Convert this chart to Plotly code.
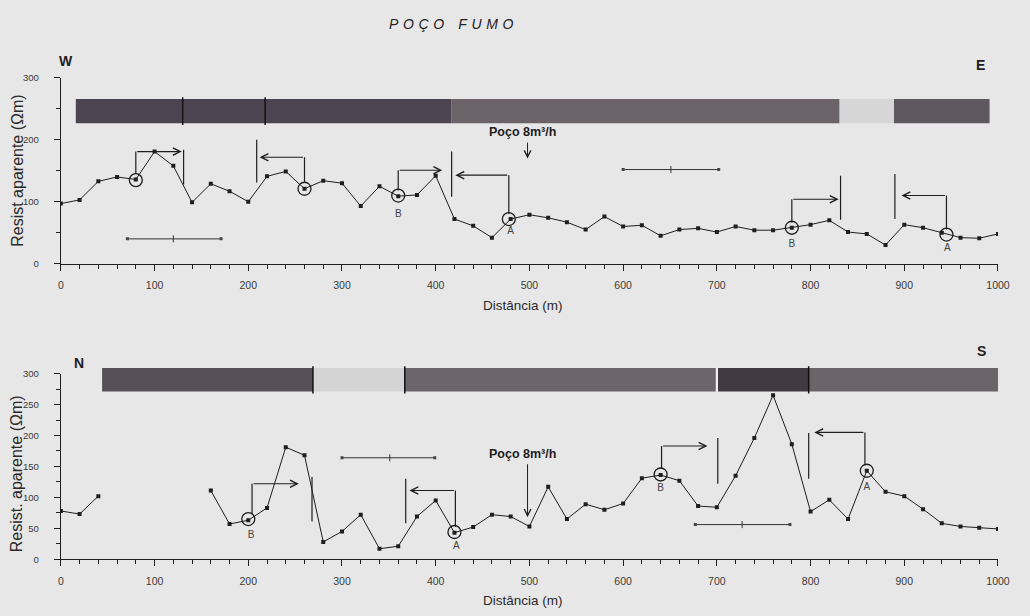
import plotly.graph_objects as go

# ---------------- data ----------------
dist = list(range(0, 1001, 20))

# W-E profile: apparent resistivity (ohm.m)
rho_we = [97, 103, 133, 140, 136, 181, 158, 99, 129, 117, 100, 141, 149, 121, 134, 130,
          93, 125, 109, 111, 142, 72, 61, 42, 72, 79, 74, 67, 55, 76, 60, 62, 45, 55,
          57, 51, 60, 54, 54, 58, 63, 70, 51, 48, 30, 63, 58, 50, 42, 41, 48]

# N-S profile (no readings between 60 and 140 m)
rho_ns = [78, 73, 102, None, None, None, None, None, 111, 57, 63, 83, 181, 168, 28, 45,
          72, 17, 21, 69, 95, 43, 52, 72, 69, 53, 117, 65, 89, 80, 90, 131, 136, 127,
          86, 84, 135, 196, 265, 186, 77, 96, 65, 143, 109, 102, 81, 58, 53, 51, 49]

# anomaly centres (circled) and their labels
circ_we_x = [80, 260, 360, 478, 780, 945]
circ_we_y = [135, 121, 110, 72, 58, 47]
lab_we_x = [360, 480, 780, 946]
lab_we_y = [80, 52, 31, 24]
lab_we_t = ["B", "A", "B", "A"]

circ_ns_x = [200, 420, 640, 860]
circ_ns_y = [65, 44, 137, 143]
lab_ns_x = [203, 422, 640, 860]
lab_ns_y = [38, 21, 115, 116]
lab_ns_t = ["B", "A", "B", "A"]

# interpreted structure brackets: start x, start y, top y, arrow end x
brk_we_x0 = [80, 260, 360, 478, 780, 945]
brk_we_y0 = [145, 131, 118, 80, 66, 55]
brk_we_yt = [181, 172, 151, 143, 104, 110]
brk_we_x1 = [129, 212, 407, 421, 830, 897]

brk_ns_x0 = [204, 421, 641, 858]
brk_ns_y0 = [73, 52, 146, 152]
brk_ns_yt = [122, 111, 183, 205]
brk_ns_x1 = [254, 372, 690, 804]

# interpreted contacts: x, bottom y, top y
cont_we_x = [131, 209, 417, 832, 890]
cont_we_y0 = [128, 131, 108, 71, 72]
cont_we_y1 = [184, 200, 181, 142, 145]

cont_ns_x = [268, 368, 701, 798]
cont_ns_y0 = [61, 58, 122, 130]
cont_ns_y1 = [133, 130, 196, 204]

# dipole spread bars: x start, x end, y, centre
bar_we_x0 = [71, 600]
bar_we_x1 = [171, 702]
bar_we_y = [40, 152]
bar_we_xm = [120, 651]

bar_ns_x0 = [300, 677]
bar_ns_x1 = [399, 778]
bar_ns_y = [164, 56]
bar_ns_xm = [351, 727]

# geological units along each profile
geo_we_x0 = [16, 417, 831, 889]
geo_we_x1 = [417, 831, 889, 991]
geo_we_col = ["#4c4450", "#6b6368", "#d6d6d6", "#5f5860"]
geo_we_div = [130, 218]
geo_we_ylim = [227, 266]

geo_ns_x0 = [44, 269, 367, 701, 798]
geo_ns_x1 = [269, 367, 699, 798, 1002]
geo_ns_col = ["#585058", "#d4d4d4", "#6c6569", "#413a42", "#6a6368"]
geo_ns_div = [269, 367, 798]
geo_ns_gap = [700]
geo_ns_ylim = [271, 309]

well_x = 498

# ---------------- layout geometry ----------------
W, H = 1030, 616
XD = [58.7 / W, 1009.7 / W]
YD_TOP = [1 - 262.3 / H, 1 - 73.3 / H]
YD_BOT = [1 - 563.3 / H, 1 - 374.3 / H]

BG = "#e7e7e7"
INK = "#1e1e1e"
TXT = "#3a3a3a"

fig = go.Figure()
shapes = []
annots = []


def ypaper(v, dom):
    return dom[0] + v / 300.0 * (dom[1] - dom[0])


def add_profile(xa, ya, dom, rho, cx, cy, lx, ly, lt, bx0, by0, byt, bx1,
                kx, ky0, ky1, sx0, sx1, sy, sxm, gx0, gx1, gcol, gdiv, gylim, ggap):
    # geology band
    for a, b, c in zip(gx0, gx1, gcol):
        shapes.append(dict(type="rect", xref=xa, yref="paper", x0=a, x1=b,
                           y0=ypaper(gylim[0], dom), y1=ypaper(gylim[1], dom),
                           fillcolor=c, line=dict(width=0), layer="below"))
    for d in gdiv:
        shapes.append(dict(type="line", xref=xa, yref="paper", x0=d, x1=d,
                           y0=ypaper(gylim[0] - 3, dom), y1=ypaper(gylim[1] + 3, dom),
                           line=dict(color="#111", width=1.5)))
    for d in ggap:
        shapes.append(dict(type="line", xref=xa, yref="paper", x0=d, x1=d,
                           y0=ypaper(gylim[0] - 1, dom), y1=ypaper(gylim[1] + 1, dom),
                           line=dict(color="#f4f4f4", width=2)))

    # resistivity curve
    fig.add_trace(go.Scatter(x=dist, y=rho, xaxis=xa, yaxis=ya, mode="lines+markers",
                             connectgaps=False,
                             line=dict(color=INK, width=1),
                             marker=dict(symbol="square", size=4, color=INK),
                             showlegend=False, hoverinfo="skip"))
    # circled anomalies
    fig.add_trace(go.Scatter(x=cx, y=cy, xaxis=xa, yaxis=ya, mode="markers",
                             marker=dict(symbol="circle-open", size=13, color=INK,
                                         line=dict(color=INK, width=1.3)),
                             showlegend=False, hoverinfo="skip"))
    fig.add_trace(go.Scatter(x=lx, y=ly, xaxis=xa, yaxis=ya, mode="text", text=lt,
                             textfont=dict(family="Arial", size=10, color="#444"),
                             showlegend=False, hoverinfo="skip"))
    # bracket verticals and contacts
    vx, vy = [], []
    for a, b, c in zip(bx0, by0, byt):
        vx += [a, a, None]
        vy += [b, c, None]
    for a, b, c in zip(kx, ky0, ky1):
        vx += [a, a, None]
        vy += [b, c, None]
    fig.add_trace(go.Scatter(x=vx, y=vy, xaxis=xa, yaxis=ya, mode="lines",
                             line=dict(color=INK, width=1.2),
                             showlegend=False, hoverinfo="skip"))
    # bracket arrows
    for a, c, e in zip(bx0, byt, bx1):
        annots.append(dict(xref=xa, yref=ya, axref=xa, ayref=ya, x=e, y=c, ax=a, ay=c,
                           text="", showarrow=True, arrowhead=5, arrowsize=1.3,
                           arrowwidth=1.1, arrowcolor=INK))
    # dipole spread bars
    bxs, bys = [], []
    for a, b, c in zip(sx0, sx1, sy):
        bxs += [a, b, None]
        bys += [c, c, None]
    fig.add_trace(go.Scatter(x=bxs, y=bys, xaxis=xa, yaxis=ya, mode="lines+markers",
                             line=dict(color="#333", width=1),
                             marker=dict(symbol="square", size=3, color="#444"),
                             showlegend=False, hoverinfo="skip"))
    fig.add_trace(go.Scatter(x=sxm, y=sy, xaxis=xa, yaxis=ya, mode="markers",
                             marker=dict(symbol="line-ns", size=5, color="#333",
                                         line=dict(color="#333", width=1)),
                             showlegend=False, hoverinfo="skip"))


add_profile("x", "y", YD_TOP, rho_we, circ_we_x, circ_we_y, lab_we_x, lab_we_y, lab_we_t,
            brk_we_x0, brk_we_y0, brk_we_yt, brk_we_x1,
            cont_we_x, cont_we_y0, cont_we_y1,
            bar_we_x0, bar_we_x1, bar_we_y, bar_we_xm,
            geo_we_x0, geo_we_x1, geo_we_col, geo_we_div, geo_we_ylim, [])
add_profile("x2", "y2", YD_BOT, rho_ns, circ_ns_x, circ_ns_y, lab_ns_x, lab_ns_y, lab_ns_t,
            brk_ns_x0, brk_ns_y0, brk_ns_yt, brk_ns_x1,
            cont_ns_x, cont_ns_y0, cont_ns_y1,
            bar_ns_x0, bar_ns_x1, bar_ns_y, bar_ns_xm,
            geo_ns_x0, geo_ns_x1, geo_ns_col, geo_ns_div, geo_ns_ylim, geo_ns_gap)

# well location
for xa, ya, ty, y0, y1 in [("x", "y", 213, 198, 170), ("x2", "y2", 170, 156, 68)]:
    annots.append(dict(xref=xa, yref=ya, x=493, y=ty, text="<b>Poço 8m³/h</b>",
                       xanchor="center", yanchor="middle",
                       showarrow=False, font=dict(family="Arial", size=12.5, color=INK)))
    annots.append(dict(xref=xa, yref=ya, axref=xa, ayref=ya, x=well_x, y=y1,
                       ax=well_x, ay=y0, text="", showarrow=True, arrowhead=5,
                       arrowsize=1.3, arrowwidth=1, arrowcolor=INK))


def paper_text(text, x, y, size, angle=0, color=INK):
    annots.append(dict(xref="paper", yref="paper", x=x / W, y=1 - y / H, text=text,
                       xanchor="center", yanchor="middle", textangle=angle,
                       showarrow=False, font=dict(family="Arial", size=size, color=color)))


# orientation letters, title and axis titles
for t, x, y in [("W", 64, 56), ("E", 992, 60), ("N", 77, 363), ("S", 993, 351)]:
    paper_text("<b>%s</b>" % t, x, y, 14)
paper_text("<i>P\u2004O\u2004Ç\u2004O\u2003F\u2004U\u2004M\u2004O</i>", 455, 18, 14, color="#222")
paper_text("Resist aparente (Ωm)", 14, 168, 16, angle=-90, color="#2a2a2a")
paper_text("Resist. aparente (Ωm)", 14, 476, 16, angle=-90, color="#2a2a2a")
paper_text("Distância (m)", 528, 305, 13.5, color="#2a2a2a")
paper_text("Distância (m)", 528, 605, 13.5, color="#2a2a2a")

xaxis_common = dict(range=[0, 1000], domain=XD, showline=True, linecolor=INK, linewidth=1.3,
                    ticks="outside", ticklen=6, tickwidth=1.2, tickcolor=INK,
                    tick0=0, dtick=100, showgrid=False, zeroline=False,
                    ticklabelstandoff=6,
                    tickfont=dict(family="Arial", size=10.5, color=TXT),
                    minor=dict(dtick=20, ticks="outside", ticklen=4, tickwidth=1, tickcolor=INK))
yaxis_common = dict(range=[0, 300], showline=True, linecolor=INK, linewidth=1.3,
                    ticks="outside", ticklen=6, tickwidth=1.2, tickcolor=INK,
                    showgrid=False, zeroline=False, ticklabelstandoff=13,
                    tickfont=dict(family="Arial", size=9.5, color=TXT))

fig.update_layout(
    width=W, height=H, margin=dict(l=0, r=0, t=0, b=0),
    paper_bgcolor=BG, plot_bgcolor=BG,
    xaxis=dict(**xaxis_common, anchor="y"),
    yaxis=dict(**yaxis_common, domain=YD_TOP, anchor="x", tick0=0, dtick=100,
               minor=dict(dtick=50, ticks="outside", ticklen=4, tickwidth=1, tickcolor=INK)),
    xaxis2=dict(**xaxis_common, anchor="y2"),
    yaxis2=dict(**yaxis_common, domain=YD_BOT, anchor="x2", tick0=0, dtick=50,
                minor=dict(dtick=25, ticks="outside", ticklen=4, tickwidth=1, tickcolor=INK)),
    shapes=shapes, annotations=annots, showlegend=False,
)

fig.write_html("out.html")
